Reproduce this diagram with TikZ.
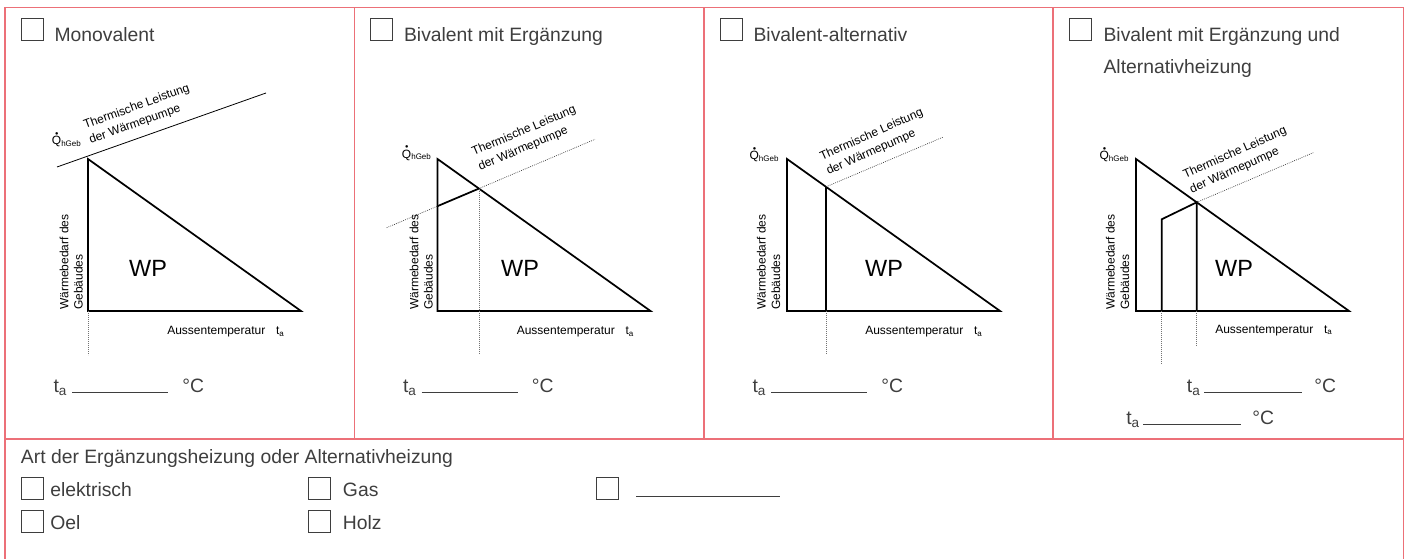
\documentclass[tikz,border=0pt]{standalone}
\usepackage{graphicx}
\usepackage{fontspec}
\setmainfont{Liberation Sans}
\definecolor{framered}{RGB}{236,112,120}
\definecolor{formgray}{RGB}{62,62,62}
\newcommand{\qdot}{\makebox[0pt][l]{\hspace{0.27em}\raisebox{0.82em}{\scalebox{0.55}{$\bullet$}}}Q\textsubscript{hGeb}}

\begin{document}
\begin{tikzpicture}[x=0.75pt,y=0.75pt,yscale=-1,xscale=1,
  frame/.style={draw=framered, line width=1.1pt},
  tickbox/.style={draw=formgray, line width=0.8pt, minimum size=16.5pt, inner sep=0pt, anchor=north west},
  formtext/.style={text=formgray, font=\fontsize{14.5}{17}\selectfont, inner sep=0pt, anchor=base west},
  blank/.style={draw=formgray, line width=0.7pt},
  curve/.style={line width=1.3pt, line join=miter},
  heatline/.style={line width=0.5pt, black!80, dash pattern=on 0.6pt off 0.9pt},
  guide/.style={line width=0.5pt, black!55, dash pattern=on 0.6pt off 0.9pt},
  smalllbl/.style={font=\fontsize{9}{12}\selectfont, inner sep=0pt, anchor=base west},
  needlbl/.style={font=\fontsize{9}{10.8}\selectfont, inner sep=0pt, anchor=base west, rotate=90, align=left},
  wplbl/.style={font=\fontsize{17.6}{20}\selectfont, inner sep=0pt}]
%uncomment if require: \path (0,559); %set diagram left start at 0, and has height of 559
\useasboundingbox (0,0) rectangle (1411,559);

%Frame
\coordinate (fTL) at (5,7.5);
\coordinate (fTR) at (1403.5,7.5);
\coordinate (fBL) at (5,559);
\coordinate (fBR) at (1403.5,559);
\draw[frame] (fBL) -- (fTL) -- (fTR) -- (fBR);
\draw[frame] (5,439) -- (1403.5,439);
\draw[frame] (354.5,7.5) -- (354.5,439);
\draw[frame] (704,7.5) -- (704,439);
\draw[frame] (1053,7.5) -- (1053,439);

%Panel Monovalent
\begin{scope}[shift={(5,0)}]
\node[tickbox] (cb1) at (15.7,18.3) {};
% Text Node
\node[formtext] (ttl1) at (49.3,41.7) {Monovalent};
\coordinate (A1) at (83,159);
\coordinate (B1) at (83,311);
\coordinate (C1) at (296,311);
\coordinate (T1a) at (52,167);
\coordinate (T1b) at (261,93);
\draw[curve] (A1) -- (B1) -- (C1) -- cycle;
%Straight Lines
\draw[line width=0.6pt] (T1a) -- (T1b);
\draw[guide] (B1) -- (83,355);
% Text Node
\node[smalllbl] (q1) at (46.7,145) {\qdot};
\node[smalllbl, rotate=20, align=left] (th1) at (85.7,144) {Thermische Leistung\\der Wärmepumpe};
\node[needlbl] (wb1) at (77.7,310) {Wärmebedarf des\\Gebäudes};
\node[wplbl] (wp1) at (143,268) {WP};
\node[smalllbl] (ax1) at (162,335) {Aussentemperatur\hspace{0.9em}t\textsubscript{a}};
\node[formtext] (ta1) at (48.3,393) {t\textsubscript{a}};
\draw[blank] (67,392.7) -- (163,392.7);
\node[formtext] (dg1) at (177,393) {°C};
\end{scope}

%Panel Bivalent mit Ergaenzung
\begin{scope}[shift={(354.5,0)}]
\node[tickbox] (cb2) at (15.5,18.3) {};
% Text Node
\node[formtext] (ttl2) at (49.3,41.7) {Bivalent mit Ergänzung};
\coordinate (A2) at (83,159);
\coordinate (B2) at (83,311);
\coordinate (C2) at (296,311);
\coordinate (T2a) at (32.2,227.7);
\coordinate (T2b) at (240.5,139.3);
\coordinate (G2) at (0,354);
\coordinate (X2) at (intersection of A2--C2 and T2a--T2b);
\coordinate (Y2) at (intersection of A2--B2 and T2a--T2b);
\draw[curve] (A2) -- (B2) -- (C2) -- cycle;
%Straight Lines
\draw[heatline] (T2a) -- (T2b);
\draw[curve] (Y2) -- (X2);
\draw[guide] (X2) -- (X2 |- G2);
% Text Node
\node[smalllbl] (q2) at (47.2,158.3) {\qdot};
\node[smalllbl, rotate=23, align=left] (th2) at (125.5,170.7) {Thermische Leistung\\der Wärmepumpe};
\node[needlbl] (wb2) at (78.2,310) {Wärmebedarf des\\Gebäudes};
\node[wplbl] (wp2) at (165.5,268) {WP};
\node[smalllbl] (ax2) at (162,335) {Aussentemperatur\hspace{0.9em}t\textsubscript{a}};
\node[formtext] (ta2) at (48.3,393) {t\textsubscript{a}};
\draw[blank] (67,392.7) -- (163,392.7);
\node[formtext] (dg2) at (177,393) {°C};
\end{scope}

%Panel Bivalent-alternativ
\begin{scope}[shift={(704,0)}]
\node[tickbox] (cb3) at (15.5,18.3) {};
% Text Node
\node[formtext] (ttl3) at (49.3,41.7) {Bivalent-alternativ};
\coordinate (A3) at (83,159);
\coordinate (B3) at (83,311);
\coordinate (C3) at (296,311);
\coordinate (X3) at (122,186.8);
\coordinate (T3b) at (238.7,137.3);
\coordinate (G3) at (0,354);
\draw[curve] (A3) -- (B3) -- (C3) -- cycle;
%Straight Lines
\draw[heatline] (X3) -- (T3b);
\draw[curve] (X3) -- (X3 |- B3);
\draw[guide] (X3 |- B3) -- (X3 |- G3);
% Text Node
\node[smalllbl] (q3) at (45.3,160) {\qdot};
\node[smalllbl, rotate=24, align=left] (th3) at (124.3,175) {Thermische Leistung\\der Wärmepumpe};
\node[needlbl] (wb3) at (76,310) {Wärmebedarf des\\Gebäudes};
\node[wplbl] (wp3) at (180,268) {WP};
\node[smalllbl] (ax3) at (161,335) {Aussentemperatur\hspace{0.9em}t\textsubscript{a}};
\node[formtext] (ta3) at (48.3,393) {t\textsubscript{a}};
\draw[blank] (67,392.7) -- (163,392.7);
\node[formtext] (dg3) at (177,393) {°C};
\end{scope}

%Panel Bivalent mit Ergaenzung und Alternativheizung
\begin{scope}[shift={(1053,0)}]
\node[tickbox] (cb4) at (15.5,18.3) {};
% Text Node
\node[formtext, align=left, font=\fontsize{14.5}{24}\selectfont] (ttl4) at (50.3,74) {Bivalent mit Ergänzung und\\Alternativheizung};
\coordinate (A4) at (83,159);
\coordinate (B4) at (83,311);
\coordinate (C4) at (296,311);
\coordinate (K4) at (108.7,219.3);
\coordinate (X4) at (143.7,202.3);
\coordinate (T4b) at (260.3,152.7);
\draw[curve] (A4) -- (B4) -- (C4) -- cycle;
%Straight Lines
\draw[curve] (K4 |- B4) -- (K4) -- (X4) -- (X4 |- B4);
\draw[heatline] (X4) -- (T4b);
\draw[guide] (K4 |- B4) -- (108.7,364.3);
\draw[guide] (X4 |- B4) -- (143.7,346.7);
% Text Node
\node[smalllbl] (q4) at (46.3,160) {\qdot};
\node[smalllbl, rotate=24, align=left] (th4) at (138.7,193.3) {Thermische Leistung\\der Wärmepumpe};
\node[needlbl] (wb4) at (76,310) {Wärmebedarf des\\Gebäudes};
\node[wplbl] (wp4) at (181,268) {WP};
\node[smalllbl] (ax4) at (162,333.3) {Aussentemperatur\hspace{0.9em}t\textsubscript{a}};
\node[formtext] (ta4) at (133.7,393) {t\textsubscript{a}};
\draw[blank] (151.3,392.7) -- (248.7,392.7);
\node[formtext] (dg4) at (261,393) {°C};
\node[formtext] (ta5) at (73,425) {t\textsubscript{a}};
\draw[blank] (90.3,424) -- (187.7,424);
\node[formtext] (dg5) at (199,425) {°C};
\end{scope}

%Bottom row
% Text Node
\node[formtext] (art) at (20.7,464) {Art der Ergänzungsheizung oder Alternativheizung};
\node[tickbox] (cbEl) at (20.7,477) {};
\node[formtext] (el) at (50,497) {elektrisch};
\node[tickbox] (cbGas) at (308.3,477) {};
\node[formtext] (gas) at (342.7,497) {Gas};
\node[tickbox] (cbAnd) at (596,477) {};
\draw[blank] (636,496) -- (780,496);
\node[tickbox] (cbOel) at (20.7,510) {};
\node[formtext] (oel) at (50,530) {Oel};
\node[tickbox] (cbHolz) at (308.3,510) {};
\node[formtext] (holz) at (342.7,530) {Holz};

\end{tikzpicture}
\end{document}
